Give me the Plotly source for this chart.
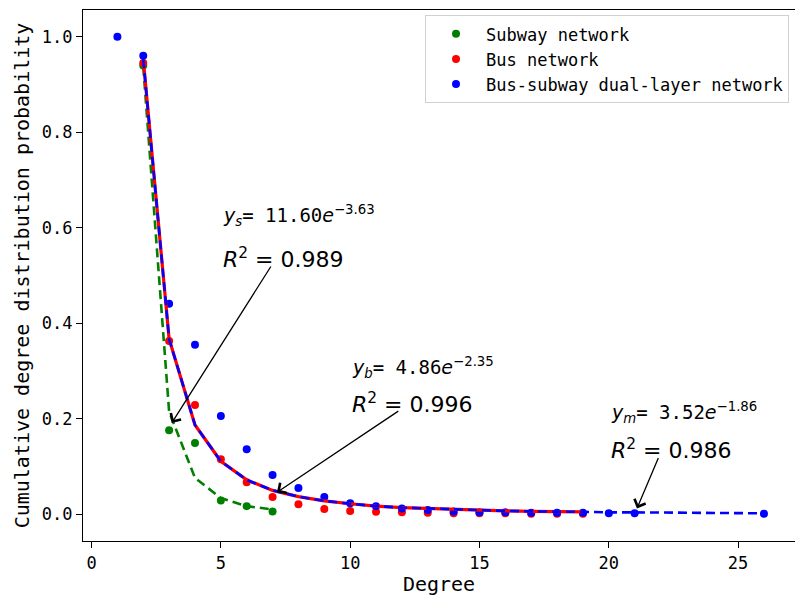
import plotly.graph_objects as go

# ---- data ----
subway_x = [2, 3, 4, 5, 6, 7]
subway_y = [0.940, 0.176, 0.149, 0.029, 0.017, 0.006]

bus_x = [2, 3, 4, 5, 6, 7, 8, 9, 10, 11, 12, 13, 14, 15, 16, 17, 18, 19]
bus_y = [0.945, 0.363, 0.229, 0.115, 0.067, 0.036, 0.021, 0.011, 0.007, 0.005,
         0.004, 0.003, 0.002, 0.002, 0.002, 0.001, 0.001, 0.001]

dual_x = [1, 2, 3, 4, 5, 6, 7, 8, 9, 10, 11, 12, 13, 14, 15, 16, 17, 18, 19, 20, 21, 26]
dual_y = [1.000, 0.960, 0.441, 0.355, 0.206, 0.136, 0.082, 0.055, 0.036, 0.023,
          0.017, 0.012, 0.009, 0.006, 0.004, 0.004, 0.003, 0.003, 0.003, 0.002, 0.002, 0.001]

# fitted curves
subway_fit_x = [2, 3, 4, 5, 6, 7]
subway_fit_y = [0.937, 0.215, 0.076, 0.034, 0.017, 0.010]

bus_fit_x = [2, 3, 4, 5, 6, 7, 8, 9, 10, 11, 12, 13, 14, 15, 16, 17, 18, 19]
bus_fit_y = [0.953, 0.367, 0.187, 0.111, 0.072, 0.050, 0.037, 0.028, 0.022, 0.017,
             0.014, 0.012, 0.010, 0.008, 0.007, 0.006, 0.006, 0.005]

dual_fit_x = [2, 3, 4, 5, 6, 7, 8, 9, 10, 11, 12, 13, 14, 15, 16, 17, 18, 19, 20, 21, 26]
dual_fit_y = [0.953, 0.367, 0.187, 0.111, 0.072, 0.050, 0.037, 0.028, 0.022, 0.017,
              0.014, 0.012, 0.010, 0.008, 0.007, 0.006, 0.006, 0.005, 0.004, 0.004, 0.002]

legend_names = ["Subway network", "Bus network", "Bus-subway dual-layer network"]
x_ticks = [0, 5, 10, 15, 20, 25]
y_ticks = [0.0, 0.2, 0.4, 0.6, 0.8, 1.0]
y_tick_text = ["0.0", "0.2", "0.4", "0.6", "0.8", "1.0"]

eq_texts = [
    ("<i>y</i><sub><i>s</i></sub><span style='font-family:DejaVu Sans Mono'>= 11.60</span><i>e</i><sup>\u22123.63</sup>", "<i>R</i><sup>2</sup> = 0.989"),
    ("<i>y</i><sub><i>b</i></sub><span style='font-family:DejaVu Sans Mono'>= 4.86</span><i>e</i><sup>\u22122.35</sup>", "<i>R</i><sup>2</sup> = 0.996"),
    ("<i>y</i><sub><i>m</i></sub><span style='font-family:DejaVu Sans Mono'>= 3.52</span><i>e</i><sup>\u22121.86</sup>", "<i>R</i><sup>2</sup> = 0.986"),
]
eq_pos = [(5.0, 0.625, 0.537), (10.0, 0.308, 0.233), (20.0, 0.214, 0.136)]
arrows = [  # (head x, head y, tail x, tail y)
    (3.10, 0.191, 6.97, 0.522),
    (7.17, 0.046, 11.92, 0.218),
    (21.09, 0.012, 21.94, 0.121),
]

GREEN, RED, BLUE = "#008000", "#ff0000", "#0000ff"
MONO = "DejaVu Sans Mono"

fig = go.Figure()

fig.add_trace(go.Scatter(x=subway_x, y=subway_y, mode="markers", name=legend_names[0],
                         marker=dict(color=GREEN, size=8)))
fig.add_trace(go.Scatter(x=bus_x, y=bus_y, mode="markers", name=legend_names[1],
                         marker=dict(color=RED, size=8)))
fig.add_trace(go.Scatter(x=dual_x, y=dual_y, mode="markers", name=legend_names[2],
                         marker=dict(color=BLUE, size=8)))

fig.add_trace(go.Scatter(x=subway_fit_x, y=subway_fit_y, mode="lines", showlegend=False,
                         line=dict(color=GREEN, width=2.6, dash="9px,5px")))
fig.add_trace(go.Scatter(x=bus_fit_x, y=bus_fit_y, mode="lines", showlegend=False,
                         line=dict(color=RED, width=3.2)))
fig.add_trace(go.Scatter(x=dual_fit_x, y=dual_fit_y, mode="lines", showlegend=False,
                         line=dict(color=BLUE, width=2.6, dash="9px,5px")))

annotations = []
for (t1, t2), (x0, y1, y2) in zip(eq_texts, eq_pos):
    annotations.append(dict(x=x0, y=y1, xref="x", yref="y", text=t1, showarrow=False,
                            xanchor="left", yanchor="middle",
                            font=dict(family="DejaVu Sans", size=19, color="black")))
    annotations.append(dict(x=x0, y=y2, xref="x", yref="y", text=t2, showarrow=False,
                            xanchor="left", yanchor="middle",
                            font=dict(family="DejaVu Sans", size=22, color="black")))
for hx, hy, tx, ty in arrows:
    annotations.append(dict(x=hx, y=hy, ax=tx, ay=ty, xref="x", yref="y", axref="x", ayref="y",
                            text="", showarrow=True, arrowhead=4, arrowsize=1.8,
                            arrowwidth=1.3, arrowcolor="black", standoff=0))

fig.update_layout(
    width=795, height=596,
    paper_bgcolor="white", plot_bgcolor="white",
    margin=dict(l=83, r=0, t=10, b=55, autoexpand=False),
    font=dict(family=MONO, size=17, color="black"),
    showlegend=True,
    legend=dict(x=0.9916, y=0.99, xanchor="right", yanchor="top",
                bgcolor="white", bordercolor="#d0d0d0", borderwidth=1,
                itemwidth=50, tracegroupgap=0,
                font=dict(family=MONO, size=17)),
    annotations=annotations,
)
fig.update_xaxes(range=[-0.33, 27.2], tickvals=x_ticks, ticks="outside", ticklen=6,
                 tickwidth=1.2, tickcolor="black", showline=True, linecolor="black",
                 linewidth=1.2, mirror=True, showgrid=False, zeroline=False,
                 automargin=False,
                 title=dict(text="Degree", standoff=4),
                 tickfont=dict(family=MONO, size=17))
fig.update_yaxes(range=[-0.056, 1.056], tickvals=y_ticks, ticktext=y_tick_text,
                 ticks="outside", ticklen=6, tickwidth=1.2, tickcolor="black",
                 showline=True, linecolor="black", linewidth=1.2, mirror=False,
                 showgrid=False, zeroline=False, automargin=False,
                 title=dict(text="Cumulative degree distribution probability", standoff=6),
                 tickfont=dict(family=MONO, size=17))

fig.write_html("out.html", config={"displayModeBar": False},
               post_script="document.body.style.margin='0px';document.body.style.overflow='hidden';")
